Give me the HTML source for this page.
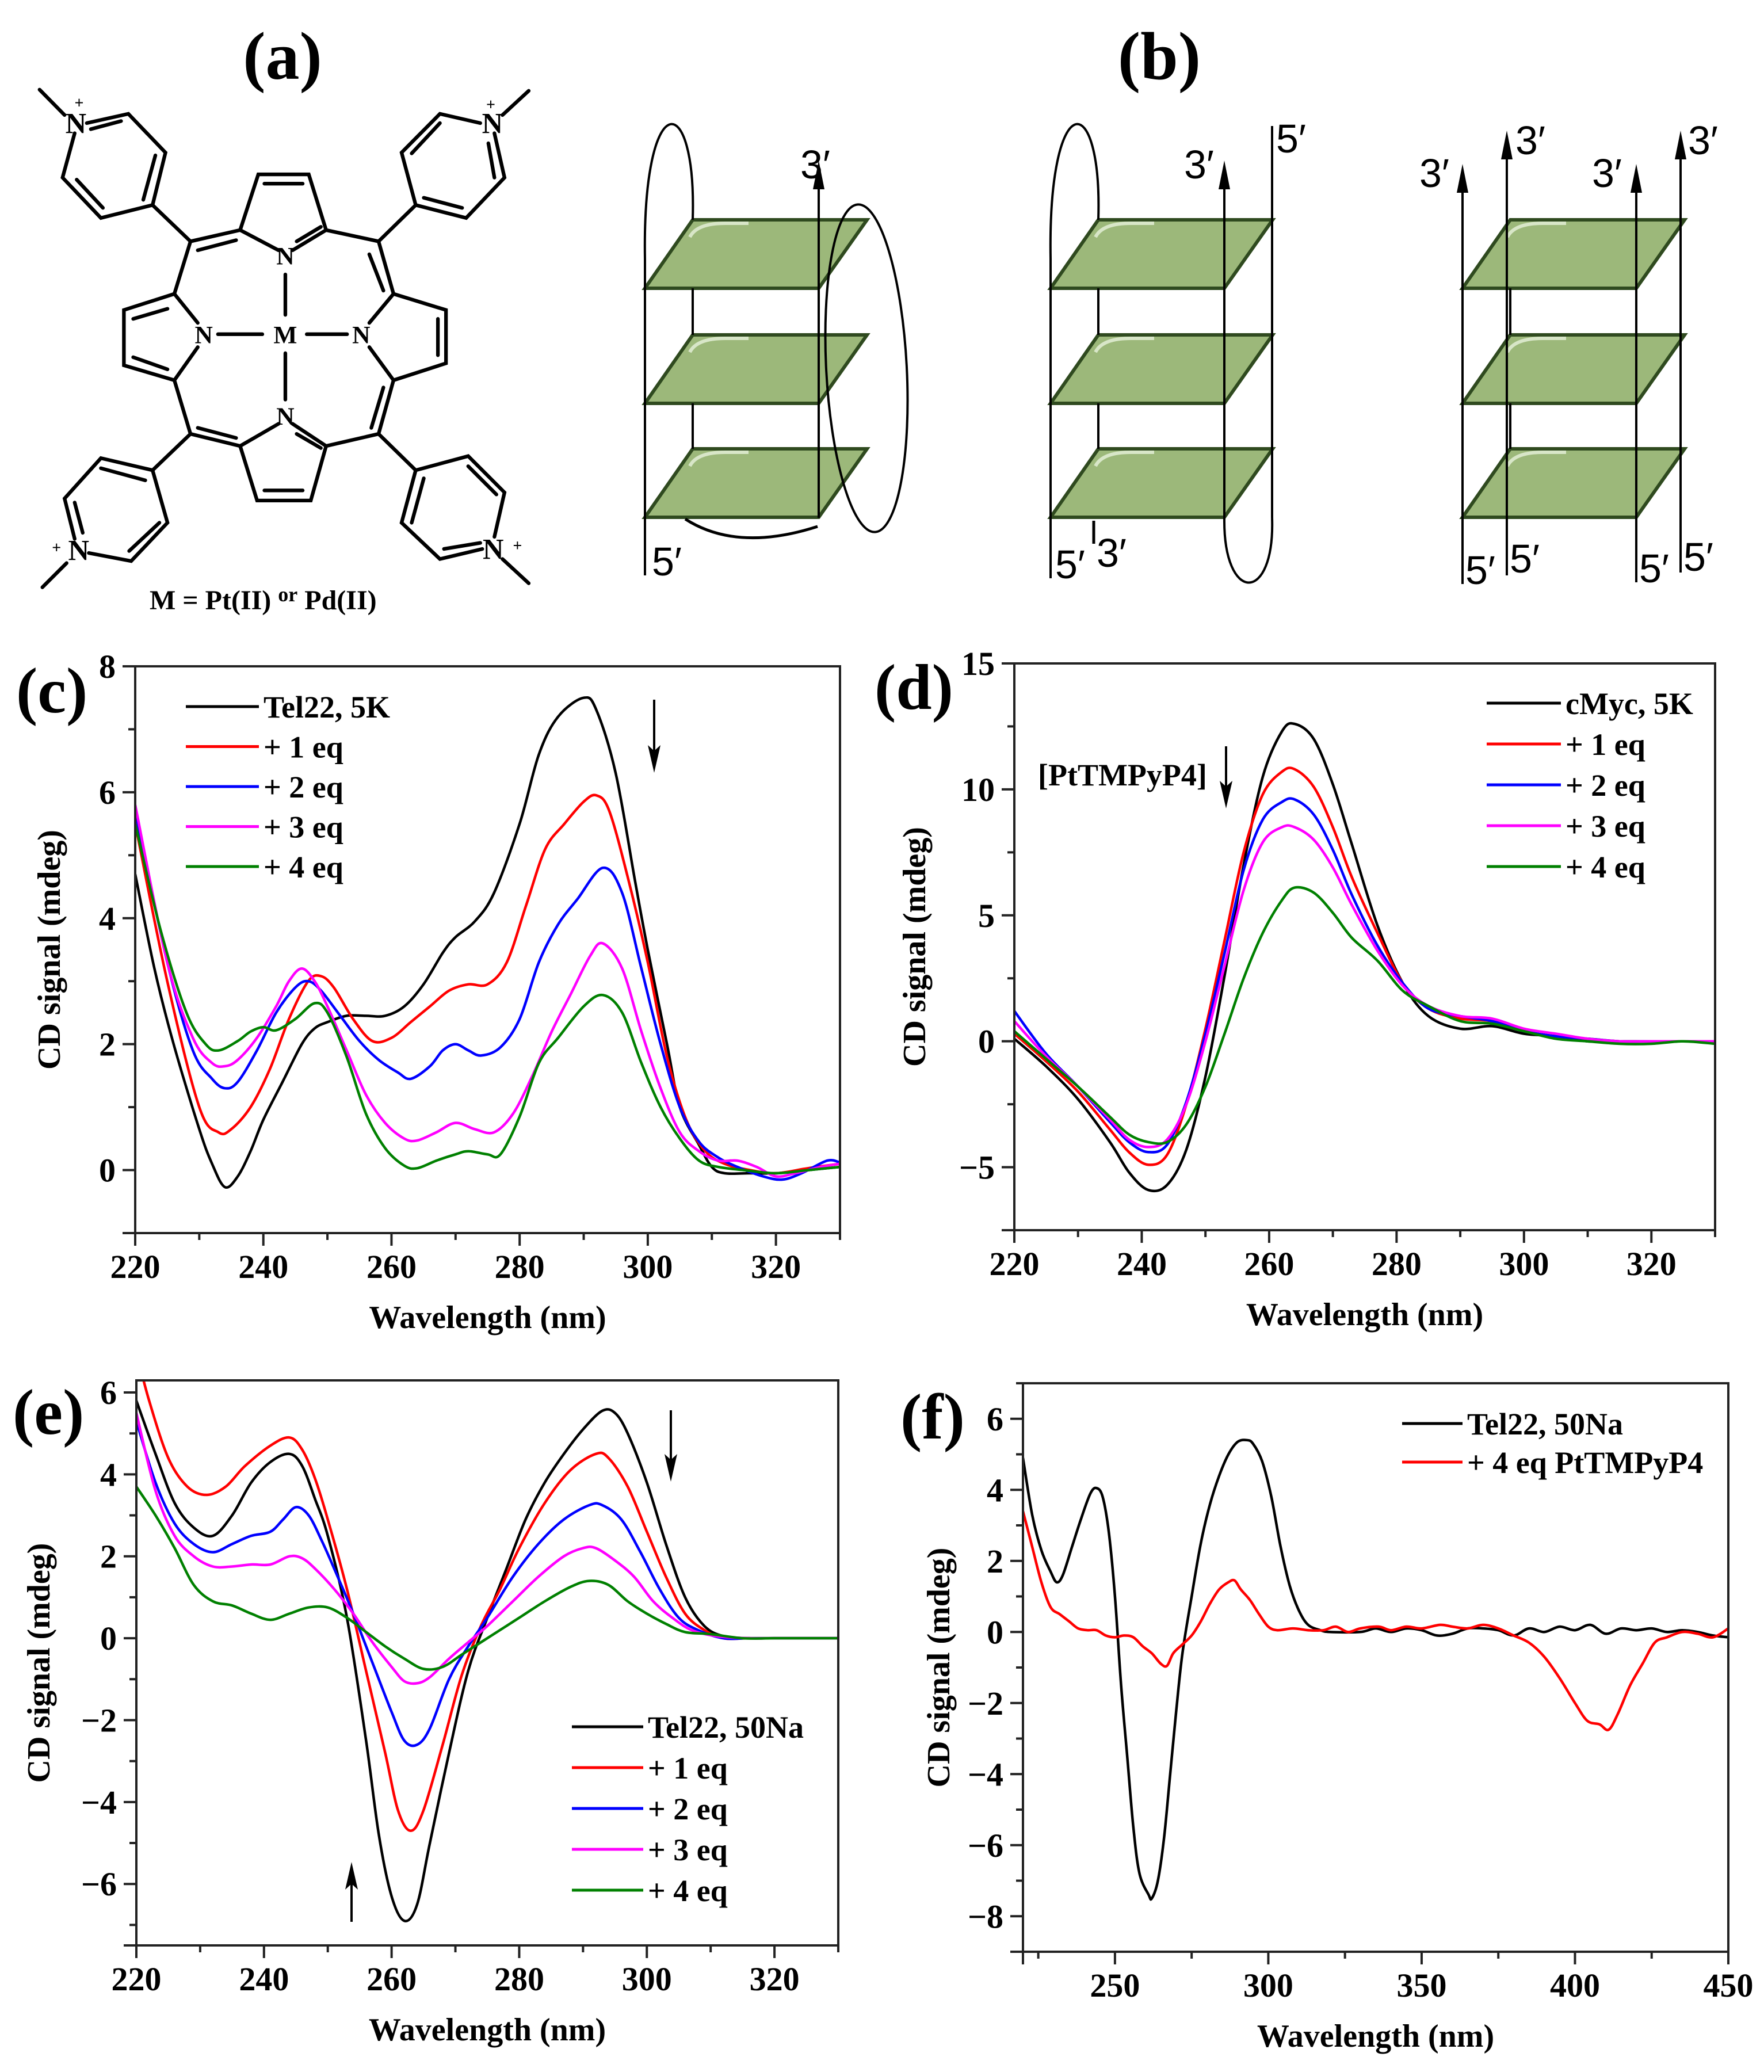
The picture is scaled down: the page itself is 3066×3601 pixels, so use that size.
<!DOCTYPE html>
<html><head><meta charset="utf-8"><style>
html,body{margin:0;padding:0;background:#fff}
svg{display:block}
text{font-family:"Liberation Serif",serif;font-weight:bold}
.sans{font-family:"Liberation Sans",sans-serif;font-weight:normal}
</style></head><body>
<svg id="fig" width="3066" height="3601" viewBox="0 0 3066 3601" xmlns="http://www.w3.org/2000/svg">
<rect width="3066" height="3601" fill="#fff"/>
<text x="491" y="137" font-size="118" text-anchor="middle">(a)</text>
<g transform="scale(0.7015)" stroke="#000" stroke-width="9" fill="none" stroke-linecap="round">
<path d="M595,570L640,432L765,432L808,570M655,455L750,455M595,570L690,620M725,620L808,570M735,598L795,562"/>
<path d="M595,570L472,598M490,620L585,595M808,570L938,598"/>
<path d="M472,598L432,728L307,768L307,905L432,942M330,790L415,765M330,885L415,915M432,728L490,800M432,942L490,860"/>
<path d="M938,598L975,728L1105,768L1105,900L975,942M915,630L950,720M1085,790L1085,880M975,728L915,800M975,942L915,860"/>
<path d="M432,942L472,1075L595,1105L637,1240L770,1240L808,1105L938,1075L975,942M490,1060L585,1085M950,960L920,1060M655,1215L750,1215M595,1105L690,1050M725,1050L808,1105M735,1075L795,1110"/>
<path d="M540,828L650,828M760,828L860,828M707,680L707,780M707,875L707,990"/>
<path d="M472,598L378,508L250,540L155,440L185,330M378,508L410,378L318,282L215,305M355,495L385,385M190,445L255,515M225,320L300,300M160,285L98,222"/>
<path d="M938,598L1030,508L995,378L1090,282L1190,305M1030,508L1155,540L1250,440L1225,330M1020,380L1090,305M1050,490L1145,515M1225,440L1210,355M1245,285L1310,225"/>
<path d="M472,1075L378,1165L250,1135L160,1235L185,1335M378,1165L415,1295L325,1390L220,1370M250,1160L360,1190M185,1245L205,1320M320,1365L395,1295M165,1395L105,1455"/>
<path d="M938,1075L1030,1165L1160,1130L1250,1220L1225,1330M1030,1165L995,1295L1090,1385L1195,1360M1160,1155L1230,1225M1020,1295L1050,1185M1100,1360L1190,1345M1245,1385L1310,1445"/>
<g stroke="none" fill="#000" font-family="Liberation Serif,serif">
<text x="707" y="655" font-size="62" font-weight="normal" text-anchor="middle">N</text>
<text x="707" y="1052" font-size="62" font-weight="normal" text-anchor="middle">N</text>
<text x="505" y="850" font-size="62" font-weight="normal" text-anchor="middle">N</text>
<text x="895" y="850" font-size="62" font-weight="normal" text-anchor="middle">N</text>
<text x="707" y="850" font-size="62" font-weight="normal" text-anchor="middle">M</text>
<text x="188" y="330" font-size="72" text-anchor="middle" font-family="Liberation Sans,sans-serif">N</text><text x="196" y="268" font-size="40" text-anchor="middle" font-family="Liberation Sans,sans-serif">+</text>
<text x="1220" y="330" font-size="72" text-anchor="middle" font-family="Liberation Sans,sans-serif">N</text><text x="1216" y="272" font-size="40" text-anchor="middle" font-family="Liberation Sans,sans-serif">+</text>
<text x="195" y="1388" font-size="72" text-anchor="middle" font-family="Liberation Sans,sans-serif">N</text><text x="140" y="1370" font-size="40" text-anchor="middle" font-family="Liberation Sans,sans-serif">+</text>
<text x="1222" y="1385" font-size="72" text-anchor="middle" font-family="Liberation Sans,sans-serif">N</text><text x="1282" y="1365" font-size="40" text-anchor="middle" font-family="Liberation Sans,sans-serif">+</text>
</g>
</g>
<text x="260" y="1059" font-size="48">M = Pt(II) <tspan font-size="36" dy="-14">or</tspan><tspan dy="14"> Pd(II)</tspan></text>
<text x="2015" y="137" font-size="118" text-anchor="middle">(b)</text>
<g id="quad"></g>
<g id="charts"></g>
</svg>
<script>
(function(){
  const g=document.getElementById('quad');
  const NS='http://www.w3.org/2000/svg';
  function el(tag,attrs,parent){const e=document.createElementNS(NS,tag);for(const k in attrs)e.setAttribute(k,attrs[k]);(parent||g).appendChild(e);return e;}
  function plate(dx,y){
    const p=el('path',{d:`M${dx+83},${y}L${dx+386},${y}L${dx+302},${y+119}L${dx},${y+119}Z`,fill:'#9cb87a',stroke:'#2f4a1f','stroke-width':6});
    
    
    el('path',{d:`M${dx+78},${y+30}Q${dx+90},${y+6} ${dx+140},${y+6}L${dx+180},${y+6}`,stroke:'#d8e6c8','stroke-width':6,fill:'none'});
  }
  function line(x1,y1,x2,y2,w){el('line',{x1,y1,x2,y2,stroke:'#000','stroke-width':w||4});}
  function arrow(x,y1,y2){line(x,y1,x,y2+30,4);el('path',{d:`M${x-10},${y2+50}L${x},${y2}L${x+10},${y2+50}Z`,fill:'#000'});}
  function lbl(x,y,t){const e=el('text',{x,y,'font-size':70,'class':'sans'});e.textContent=t;}
  const ys=[382,582,780];
  let d=1121;
  ys.forEach(y=>plate(d,y));
  line(d,450,d,1000);
  line(d+83,501,d+83,582);line(d+83,701,d+83,780);
  line(d+302,501,d+302,582);line(d+302,701,d+302,780);
  arrow(d+302,900,279);
  el('path',{d:`M${d},450 C${d-5},150 ${d+90},150 ${d+83},382`,stroke:'#000','stroke-width':4,fill:'none'});
  el('ellipse',{cx:d+385,cy:640,rx:70,ry:285,stroke:'#000','stroke-width':4,fill:'none',transform:`rotate(-3 ${d+385} 640)`});
  el('path',{d:`M${d+70},902 Q${d+160},960 ${d+300},915`,stroke:'#000','stroke-width':5,fill:'none'});
  lbl(d+12,1000,'5\u2032');lbl(d+270,310,'3\u2032');
  d=1826;
  ys.forEach(y=>plate(d,y));
  line(d,450,d,1005);
  line(d+83,501,d+83,582);line(d+83,701,d+83,780);
  line(d+302,501,d+302,582);line(d+302,701,d+302,780);
  line(d+385,219,d+385,900);
  arrow(d+302,900,279);
  el('path',{d:`M${d},450 C${d-5},150 ${d+90},150 ${d+83},382`,stroke:'#000','stroke-width':4,fill:'none'});
  el('path',{d:`M${d+302},900 C${d+300},1050 ${d+390},1050 ${d+385},900`,stroke:'#000','stroke-width':4,fill:'none'});
  line(d+75,905,d+75,945,5);
  lbl(d+8,1005,'5\u2032');lbl(d+80,985,'3\u2032');lbl(d+392,265,'5\u2032');lbl(d+232,310,'3\u2032');
  d=2542;
  ys.forEach(y=>plate(d,y));
  line(d+83,501,d+83,582);line(d+83,701,d+83,780);
  line(d+302,501,d+302,582);line(d+302,701,d+302,780);
  arrow(d,1015,285);arrow(d+77,1000,227);arrow(d+302,1012,285);arrow(d+379,995,227);
  lbl(d-75,325,'3\u2032');lbl(d+92,268,'3\u2032');lbl(d+225,325,'3\u2032');lbl(d+392,268,'3\u2032');
  lbl(d+5,1015,'5\u2032');lbl(d+82,995,'5\u2032');lbl(d+307,1012,'5\u2032');lbl(d+384,992,'5\u2032');
})();
</script>
<script>
const cWl=[220,223,226,230,232,234,236,238,240,243,246,248,250,253,256,259,262,265,268,270,273,276,280,283,286,290,292,295,298,300,303,305,308,310,312,316,320,325,330];
const cBlack=[4.7,3.2,2.0,0.65,0.1,-0.27,-0.1,0.3,0.8,1.4,2.0,2.25,2.35,2.45,2.45,2.45,2.6,2.95,3.45,3.7,3.95,4.4,5.5,6.6,7.2,7.5,7.3,6.3,4.6,3.5,2.0,1.0,0.4,0.05,-0.05,-0.05,-0.05,0.0,0.05];
const cRedWl=[220,225,230,233,235,238,241,244,247,249,251,254,257,260,263,266,269,272,275,278,281,284,287,290,292,294,297,300,303,306,309,312,316,320,325,330];
const cRed=[5.5,3.0,1.0,0.6,0.65,1.0,1.6,2.4,3.0,3.08,2.9,2.4,2.05,2.1,2.35,2.6,2.85,2.95,2.95,3.3,4.2,5.1,5.5,5.85,5.95,5.7,4.6,3.3,1.8,0.8,0.3,0.1,0.0,-0.05,0.03,0.1];
const cBlueWl=[220,225,229,232,234,236,239,242,245,247,249,252,255,258,261,263,266,268,270,272,274,277,280,283,286,289,293,296,299,302,305,308,311,314,318,321,324,328,330];
const cBlue=[5.7,3.3,1.9,1.45,1.3,1.4,1.9,2.5,2.9,3.0,2.85,2.45,2.05,1.75,1.55,1.45,1.65,1.9,2.0,1.9,1.82,1.95,2.4,3.3,3.9,4.3,4.8,4.4,3.2,2.0,1.0,0.45,0.2,0.05,-0.1,-0.15,-0.05,0.15,0.12];
const cMagWl=[220,225,229,232,234,236,239,242,244,246,248,250,253,256,259,262,264,267,270,273,276,279,282,285,288,291,293,296,299,302,305,308,311,314,317,320,323,327,330];
const cMag=[5.8,3.3,2.1,1.7,1.65,1.75,2.1,2.6,3.0,3.2,3.0,2.6,1.9,1.2,0.75,0.5,0.47,0.6,0.75,0.65,0.6,0.9,1.5,2.2,2.8,3.4,3.6,3.2,2.2,1.3,0.6,0.3,0.15,0.15,0.05,-0.1,-0.05,0.05,0.1];
const cGreenWl=[220,224,228,231,233,236,238,240,242,245,248,250,253,256,259,262,264,267,270,272,275,277,280,283,286,290,293,296,299,302,305,308,311,315,320,325,330];
const cGreen=[5.5,3.8,2.5,2.0,1.9,2.05,2.2,2.27,2.22,2.4,2.65,2.5,1.8,0.9,0.35,0.07,0.03,0.15,0.25,0.3,0.25,0.25,0.85,1.7,2.1,2.6,2.78,2.5,1.7,1.0,0.5,0.15,0.05,0.0,-0.05,0.0,0.05];

const dWl=[220,225,230,235,238,241,244,247,250,253,256,259,262,264,267,270,273,277,281,285,290,295,300,305,310,315,320,325,330];
const dBlack=[0.1,-1.0,-2.3,-4.0,-5.2,-5.9,-5.7,-4.3,-1.4,2.6,7.0,10.5,12.3,12.6,12.0,10.2,7.8,4.6,2.3,1.0,0.5,0.6,0.3,0.2,0.0,0.0,0.0,0.0,0.0];
const dRed=[0.3,-0.8,-2.0,-3.5,-4.4,-4.9,-4.5,-2.5,0.5,4.0,7.5,9.8,10.7,10.8,10.1,8.5,6.5,4.3,2.3,1.3,0.9,0.8,0.4,0.2,0.1,0.0,0.0,0.0,0.0];
const dBlue=[1.2,-0.5,-1.8,-3.2,-4.0,-4.4,-4.1,-2.4,0.3,3.5,6.8,8.8,9.5,9.6,9.0,7.6,5.8,3.8,2.3,1.3,1.0,0.8,0.4,0.2,0.1,0.0,0.0,0.0,0.0];
const dMag=[0.8,-0.6,-1.8,-3.1,-3.9,-4.2,-3.9,-2.5,0.0,3.0,6.0,7.9,8.5,8.5,8.0,6.9,5.4,3.6,2.2,1.4,1.0,0.9,0.5,0.3,0.1,0.0,0.0,0.0,0.0];
const dGreen=[0.4,-0.7,-1.8,-3.0,-3.7,-4.0,-4.0,-3.3,-1.8,0.3,2.5,4.3,5.6,6.1,5.9,5.1,4.1,3.2,2.0,1.4,0.8,0.7,0.4,0.1,0.0,-0.1,-0.1,0.0,-0.1];

const eBlackWl=[220,223,226,229,232,235,238,241,244,246,248,250,253,256,258,260,262,264,266,269,272,275,278,281,284,287,290,293,295,297,300,303,306,309,312,316,320,325,330];
const eBlack=[5.8,4.5,3.3,2.7,2.5,3.0,3.8,4.3,4.5,4.2,3.4,2.5,0.5,-2.5,-4.8,-6.3,-6.9,-6.5,-5.0,-2.8,-0.8,0.5,1.7,2.9,3.8,4.5,5.1,5.55,5.5,5.0,3.8,2.3,1.0,0.3,0.05,0.0,0.0,0.0,0.0];
const eRedWl=[220,222,225,228,231,234,237,241,244,246,248,250,253,256,259,261,263,265,268,271,274,277,280,284,288,292,294,297,300,303,306,309,312,316,320,325,330];
const eRed=[7.0,5.8,4.4,3.7,3.5,3.7,4.2,4.7,4.9,4.6,3.9,2.9,1.2,-0.8,-2.8,-4.2,-4.7,-4.2,-2.6,-0.9,0.3,1.2,2.2,3.3,4.1,4.5,4.4,3.7,2.6,1.5,0.6,0.2,0.0,0.0,0.0,0.0,0.0];
const eBlueWl=[220,223,226,229,232,235,238,241,243,245,247,249,251,254,257,260,262,264,266,269,272,275,279,283,287,291,293,296,299,302,305,308,312,316,320,325,330];
const eBlue=[5.3,3.8,2.8,2.3,2.1,2.3,2.5,2.6,2.9,3.2,3.0,2.4,1.7,0.6,-0.6,-1.8,-2.5,-2.6,-2.2,-1.0,-0.2,0.5,1.5,2.3,2.9,3.25,3.25,2.9,2.1,1.2,0.5,0.2,0.0,0.0,0.0,0.0,0.0];
const eMagWl=[220,223,226,229,232,235,238,241,244,246,248,251,254,257,260,262,264,266,269,272,275,279,283,287,290,292,295,298,301,304,307,311,316,320,325,330];
const eMag=[5.5,3.6,2.5,2.0,1.75,1.75,1.8,1.8,2.0,1.95,1.7,1.2,0.6,-0.1,-0.7,-1.05,-1.1,-0.95,-0.5,-0.1,0.3,0.9,1.5,2.0,2.2,2.2,1.9,1.5,0.9,0.5,0.2,0.05,0.0,0.0,0.0,0.0];
const eGreenWl=[220,223,226,229,232,235,238,241,244,247,250,253,256,259,262,265,268,271,274,277,280,284,288,291,294,297,300,303,306,310,315,320,325,330];
const eGreen=[3.7,3.0,2.2,1.3,0.9,0.8,0.6,0.45,0.6,0.75,0.75,0.5,0.15,-0.2,-0.5,-0.75,-0.7,-0.4,-0.1,0.2,0.5,0.9,1.25,1.4,1.3,0.9,0.6,0.35,0.15,0.1,0.0,0.0,0.0,0.0];

const fBlackWl=[220,223,226,229,231,233,236,239,242,244,246,248,250,252,254,256,258,261,262,264,266,268,270,272,275,278,281,284,287,290,293,295,298,301,304,307,310,313,317,320,330,335,340,345,350,355,360,365,370,375,380,385,390,395,400,405,410,415,420,425,430,435,440,445,450];
const fBlack=[4.9,3.3,2.3,1.7,1.4,1.6,2.4,3.2,3.9,4.05,3.8,2.8,1.0,-1.5,-3.5,-5.5,-6.8,-7.4,-7.5,-7.0,-5.8,-4.0,-2.2,-0.6,1.0,2.5,3.6,4.4,5.0,5.35,5.4,5.3,4.8,3.8,2.4,1.3,0.6,0.2,0.05,0.0,0.0,0.1,0.0,0.1,0.05,-0.1,-0.05,0.1,0.1,0.05,-0.1,0.1,0.0,0.15,0.05,0.2,-0.05,0.1,0.05,0.1,0.0,0.05,0.0,-0.1,-0.15];
const fRedWl=[220,223,226,229,232,235,238,241,244,247,250,253,256,259,262,265,267,269,272,275,278,281,284,287,289,291,294,297,300,303,308,313,318,322,326,330,336,340,345,350,356,360,365,370,375,380,385,390,395,400,404,408,411,414,418,422,426,430,435,440,445,450];
const fRed=[3.4,2.4,1.4,0.7,0.5,0.3,0.1,0.05,0.05,-0.1,-0.15,-0.1,-0.15,-0.4,-0.6,-0.9,-0.95,-0.6,-0.35,-0.1,0.3,0.8,1.2,1.4,1.45,1.2,0.9,0.5,0.15,0.05,0.1,0.05,0.05,0.15,0.0,0.1,0.15,0.05,0.15,0.1,0.2,0.15,0.1,0.2,0.1,-0.1,-0.3,-0.7,-1.3,-2.0,-2.5,-2.6,-2.75,-2.3,-1.5,-0.9,-0.3,-0.15,0.0,-0.05,-0.15,0.1];

const cTicks=[220,240,260,280,300,320];
const cYTicks=[0,2,4,6,8];
const dYTicks=[-5,0,5,10,15];
const eYTicks=[-6,-4,-2,0,2,4,6];
const fXTicks=[250,300,350,400,450];
const fYTicks=[-8,-6,-4,-2,0,2,4,6];
const cLegend=["Tel22, 5K","+ 1 eq","+ 2 eq","+ 3 eq","+ 4 eq"];
const dLegend=["cMyc, 5K","+ 1 eq","+ 2 eq","+ 3 eq","+ 4 eq"];
const eLegend=["Tel22, 50Na","+ 1 eq","+ 2 eq","+ 3 eq","+ 4 eq"];
const fLegend=["Tel22, 50Na","+ 4 eq PtTMPyP4"];
const COLORS=["#000000","#ff0000","#0000ff","#ff00ff","#008000"];

const NS='http://www.w3.org/2000/svg';
const root=document.getElementById('charts');
function mk(tag,attrs,parent){const e=document.createElementNS(NS,tag);for(const k in attrs)e.setAttribute(k,attrs[k]);parent.appendChild(e);return e;}
function fmt(v){return v<0?'\u2212'+Math.abs(v):String(v);}
function smooth(pts){
  let d=`M${pts[0][0].toFixed(1)},${pts[0][1].toFixed(1)}`;
  for(let i=0;i<pts.length-1;i++){
    const p0=pts[i-1]||pts[i],p1=pts[i],p2=pts[i+1],p3=pts[i+2]||p2;
    const c1x=p1[0]+(p2[0]-p0[0])/6,c1y=p1[1]+(p2[1]-p0[1])/6;
    const c2x=p2[0]-(p3[0]-p1[0])/6,c2y=p2[1]-(p3[1]-p1[1])/6;
    d+=`C${c1x.toFixed(1)},${c1y.toFixed(1)} ${c2x.toFixed(1)},${c2y.toFixed(1)} ${p2[0].toFixed(1)},${p2[1].toFixed(1)}`;
  }
  return d;
}
function chart(cfg){
  const g=mk('g',{},root);
  
  
  const X=v=>cfg.L+(v-cfg.x0)/(cfg.x1-cfg.x0)*(cfg.R-cfg.L);
  const Y=v=>cfg.B-(v-cfg.y0)/(cfg.y1-cfg.y0)*(cfg.B-cfg.T);
  const id='clip-'+cfg.name;
  const cp=mk('clipPath',{id},g);mk('rect',{x:cfg.L,y:cfg.T,width:cfg.R-cfg.L,height:cfg.B-cfg.T},cp);
  cfg.series.forEach((s,i)=>{
    const pts=s.x.map((xv,j)=>[X(xv),Y(s.y[j])]);
    const p=mk('path',{d:smooth(pts),fill:'none',stroke:s.color,'stroke-width':4.5,'stroke-linejoin':'round','clip-path':`url(#${id})`},g);
    
    
  });
  const fr=mk('rect',{x:cfg.L,y:cfg.T,width:cfg.R-cfg.L,height:cfg.B-cfg.T,fill:'none',stroke:'#222','stroke-width':4},g);
  
  
  for(let v=cfg.xMinorStart;v<=cfg.x1+1e-9;v+=cfg.xMinor){
    const major=cfg.xTicks.some(t=>Math.abs(t-v)<1e-6);
    mk('line',{x1:X(v),x2:X(v),y1:cfg.B,y2:cfg.B+(major?22:12),stroke:'#222','stroke-width':4},g);
  }
  mk('line',{x1:cfg.L,x2:cfg.L,y1:cfg.B,y2:cfg.B+22,stroke:'#222','stroke-width':4},g);
  cfg.xTicks.forEach(v=>{
    const t=mk('text',{x:X(v),y:cfg.B+78,'font-size':58,'text-anchor':'middle'},g);t.textContent=fmt(v);
    
    
  });
  for(let v=cfg.yMinorStart;v<=cfg.y1+1e-9;v+=cfg.yMinor){
    const major=cfg.yTicks.some(t=>Math.abs(t-v)<1e-6);
    mk('line',{x1:cfg.L,x2:cfg.L-(major?22:12),y1:Y(v),y2:Y(v),stroke:'#222','stroke-width':4},g);
  }
  mk('line',{x1:cfg.L,x2:cfg.L-22,y1:cfg.B,y2:cfg.B,stroke:'#222','stroke-width':4},g);
  cfg.yTicks.forEach(v=>{
    const t=mk('text',{x:cfg.L-34,y:Y(v)+20,'font-size':58,'text-anchor':'end'},g);t.textContent=fmt(v);
    
    
  });
  const xt=mk('text',{x:(cfg.L+cfg.R)/2,y:cfg.B+165,'font-size':56,'text-anchor':'middle'},g);xt.textContent='Wavelength (nm)';
  
  
  const yc=(cfg.T+cfg.B)/2;
  const yt=mk('text',{x:cfg.yTitleX,y:yc,'font-size':56,'text-anchor':'middle',transform:`rotate(-90 ${cfg.yTitleX} ${yc})`},g);yt.textContent='CD signal (mdeg)';
  
  
  cfg.legend.forEach((lab,i)=>{
    const y=cfg.legY+i*cfg.legDy;
    const ln=mk('line',{x1:cfg.legX1,x2:cfg.legX2,y1:y,y2:y,stroke:COLORS[i],'stroke-width':5},g);
    
    
    const t=mk('text',{x:cfg.legX2+8,y:y+19,'font-size':54},g);t.textContent=lab;
    
    
  });
  const pl=mk('text',{x:cfg.lab[0],y:cfg.lab[1],'font-size':112},g);pl.textContent=cfg.label;
  
  
  return g;
}
function ser(names,xs,ys){return ys.map((y,i)=>({name:names[i],x:xs[i],y,color:COLORS[i]}));}
function arrowMark(g,x,y1,y2){
  const dir=y2>y1?1:-1;
  const l=mk('line',{x1:x,x2:x,y1,y2:y2-dir*30,stroke:'#000','stroke-width':4},g);
  
  
  mk('path',{d:`M${x-11},${y2-dir*48}L${x},${y2}L${x+11},${y2-dir*48}L${x},${y2-dir*38}Z`,fill:'#000'},g);
}
const gc=chart({name:'chart-c',L:235,R:1460,T:1158,B:2143,x0:220,x1:330,y0:-1,y1:8,xTicks:cTicks,xMinor:10,xMinorStart:220,yTicks:cYTicks,yMinor:1,yMinorStart:-1,yTitleX:104,
  series:ser(['series-tel22-5k','series-1eq','series-2eq','series-3eq','series-4eq'],[cWl,cRedWl,cBlueWl,cMagWl,cGreenWl],[cBlack,cRed,cBlue,cMag,cGreen]),
  legend:cLegend,legX1:323,legX2:450,legY:1228,legDy:69.5,label:'(c)',lab:[28,1238]});
arrowMark(gc,1137,1216,1343);
const gd=chart({name:'chart-d',L:1763,R:2981,T:1153,B:2138,x0:220,x1:330,y0:-7.5,y1:15,xTicks:cTicks,xMinor:10,xMinorStart:220,yTicks:dYTicks,yMinor:2.5,yMinorStart:-7.5,yTitleX:1608,
  series:ser(['series-cmyc-5k','series-1eq','series-2eq','series-3eq','series-4eq'],[dWl,dWl,dWl,dWl,dWl],[dBlack,dRed,dBlue,dMag,dGreen]),
  legend:dLegend,legX1:2584,legX2:2713,legY:1222,legDy:71,label:'(d)',lab:[1520,1232]});
{const t=mk('text',{x:1804,y:1365,'font-size':54},gd);t.textContent='[PtTMPyP4]';

}
arrowMark(gd,2131,1297,1405);
const ge=chart({name:'chart-e',L:237,R:1457,T:2399,B:3381,x0:220,x1:330,y0:-7.5,y1:6.295,xTicks:cTicks,xMinor:10,xMinorStart:220,yTicks:eYTicks,yMinor:1,yMinorStart:-7,yTitleX:86,
  series:ser(['series-tel22-50na','series-1eq','series-2eq','series-3eq','series-4eq'],[eBlackWl,eRedWl,eBlueWl,eMagWl,eGreenWl],[eBlack,eRed,eBlue,eMag,eGreen]),
  legend:eLegend,legX1:994,legX2:1118,legY:3001,legDy:71,label:'(e)',lab:[22,2492]});
arrowMark(ge,1166,2451,2575);
arrowMark(ge,611,3340,3236);
chart({name:'chart-f',L:1778,R:3004,T:2404,B:3392,x0:220,x1:450,y0:-9,y1:7,xTicks:fXTicks,xMinor:25,xMinorStart:225,yTicks:fYTicks,yMinor:1,yMinorStart:-9,yTitleX:1650,
  series:ser(['series-tel22-50na','series-4eq-pttmpyp4'],[fBlackWl,fRedWl],[fBlack,fRed]),
  legend:fLegend,legX1:2437,legX2:2542,legY:2474,legDy:67,label:'(f)',lab:[1565,2500]});
</script>
</body></html>
